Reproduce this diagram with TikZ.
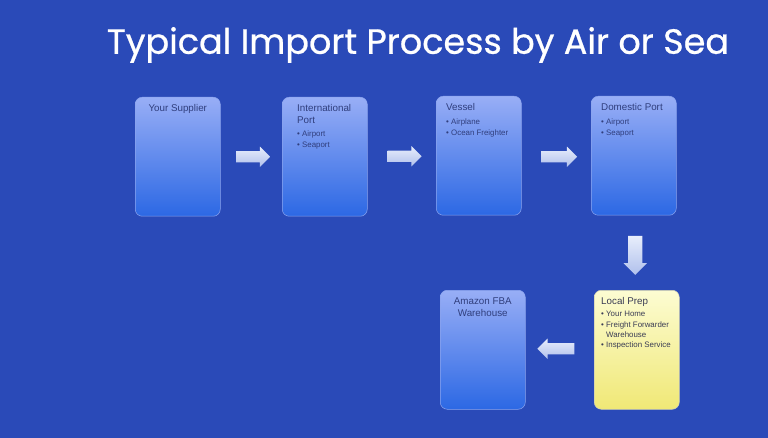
\documentclass[tikz,border=0pt]{standalone}
\usepackage{fontspec}
\setmainfont{Liberation Sans}
\newfontfamily\ttlfont{Poppins}[FakeBold=0.7]
\usepackage{tikz}
\usetikzlibrary{positioning,calc,shapes.arrows}
\definecolor{bgblue}{RGB}{42,74,184}
\definecolor{boxtop}{RGB}{152,174,246}
\definecolor{boxmid}{RGB}{118,148,240}
\definecolor{boxbot}{RGB}{44,104,228}
\definecolor{boxedge}{RGB}{140,164,238}
\definecolor{preptop}{RGB}{252,252,210}
\definecolor{prepbot}{RGB}{240,232,118}
\definecolor{prepedge}{RGB}{205,205,180}
\definecolor{boxtxt}{RGB}{48,62,124}
\definecolor{preptxt}{RGB}{58,60,84}
\definecolor{arrtop}{RGB}{232,238,252}
\definecolor{arrbot}{RGB}{176,192,236}
\tikzset{
  box/.style={anchor=north west, rounded corners=7pt, minimum width=85pt, minimum height=119pt,
    inner sep=0pt, draw=boxedge, line width=0.5pt, top color=boxtop, middle color=boxmid, bottom color=boxbot},
  prepbox/.style={box, draw=prepedge, top color=preptop, middle color=preptop!55!prepbot, bottom color=prepbot},
  hd/.style={anchor=north west, inner sep=0pt, align=left, text=boxtxt,
    font=\fontsize{9.8}{12}\selectfont},
  lst/.style={anchor=north west, inner sep=0pt, align=left, text=boxtxt,
    font=\fontsize{7.9}{10.4}\selectfont},
  barr/.style={single arrow, draw=none, inner xsep=0pt, inner ysep=5.5pt,
    single arrow head extend=4.5pt, single arrow head indent=0pt,
    top color=arrtop, bottom color=arrbot},
}
\begin{document}
\begin{tikzpicture}[x=1pt,y=-1pt]
\fill[bgblue] (0,0) rectangle (768,438);
\useasboundingbox (0,0) rectangle (768,438);
\node[text=white, font=\ttlfont\fontsize{35}{38}\selectfont] (ttl) at (418,45)
  {Typical Import Process by Air or Sea};
% the five stages
\node[box] (sup) at (135,97) {};
\node[box] (intl) at (282,97) {};
\node[box] (ves) at (436,96) {};
\node[box] (dom) at (591,96) {};
\node[prepbox] (prep) at (594,290) {};
\node[box] (fba) at (440,290) {};
\node[hd, anchor=north] (suph) at ([yshift=-7]sup.north) {Your Supplier};
\node[hd] (intlh) at ([shift={(15,7)}]intl.north west) {International\\Port};
\node[lst] (intll) at ([shift={(15,34)}]intl.north west) {\textbullet\ Airport\\\textbullet\ Seaport};
\node[hd] (vesh) at ([shift={(10,7)}]ves.north west) {Vessel};
\node[lst] (vesl) at ([shift={(10,23)}]ves.north west) {\textbullet\ Airplane\\\textbullet\ Ocean Freighter};
\node[hd] (domh) at ([shift={(10,7)}]dom.north west) {Domestic Port};
\node[lst] (doml) at ([shift={(10,23)}]dom.north west) {\textbullet\ Airport\\\textbullet\ Seaport};
\node[hd, text=preptxt] (preph) at ([shift={(7,7)}]prep.north west) {Local Prep};
\node[lst, text=preptxt] (prepl) at ([shift={(7,21)}]prep.north west)
  {\textbullet\ Your Home\\\textbullet\ Freight Forwarder\\\hphantom{\textbullet\ }Warehouse\\\textbullet\ Inspection Service};
\node[hd, anchor=north, align=center] (fbah) at ([yshift=-8]fba.north) {Amazon FBA\\Warehouse};
% block arrows between the stages
\node[barr, minimum height=34pt] (a1) at ($(sup.east)!0.5!(intl.west)+(-1,0)$) {};
\node[barr, minimum height=34pt] (a2) at ($(intl.east)!0.5!(ves.west)+(0,0)$) {};
\node[barr, minimum height=36pt] (a3) at ($(ves.east)!0.5!(dom.west)+(0,1)$) {};
\node[barr, minimum height=39pt, inner xsep=7pt, inner ysep=0pt, single arrow head extend=4.5pt,
  shape border rotate=270] (a4) at ($(dom.south)!0.5!(prep.north)+(0,-1)$) {};
\node[barr, minimum height=37pt, shape border rotate=180] (a5) at ($(fba.east)!0.5!(prep.west)+(-1,-1)$) {};
\end{tikzpicture}
\end{document}
